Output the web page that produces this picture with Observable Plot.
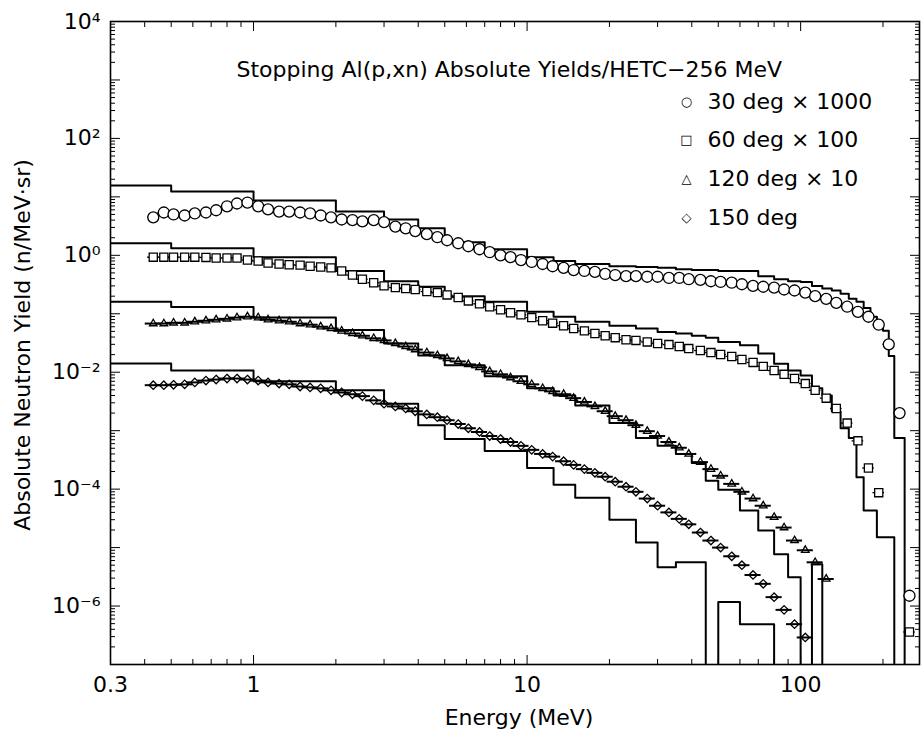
<!DOCTYPE html>
<html><head><meta charset="utf-8">
<script src="https://cdn.jsdelivr.net/npm/d3@7"></script>
<script src="https://cdn.jsdelivr.net/npm/@observablehq/plot@0.6"></script>
<style>body{margin:0;background:#fff;} svg{display:block}</style>
</head><body><div id="chart"></div>
<script>
// ---------- text ----------
const titleText = "Stopping Al(p,xn) Absolute Yields/HETC\u2212256 MeV";
const xLabel = "Energy (MeV)";
const yLabel = "Absolute Neutron Yield (n/MeV\u00b7sr)";
const seriesNames = ["30 deg \u00d7 1000", "60 deg \u00d7 100", "120 deg \u00d7 10", "150 deg"];
const seriesGlyphs = ["\u25cb", "\u25a1", "\u25b3", "\u25c7"];
const xTickLabels = [0.3, 1, 10, 100];
const yTickLabels = [1e4, 1e2, 1, 1e-2, 1e-4, 1e-6];

// ---------- HETC histograms (bin edges in MeV, one value per bin; null = no yield) ----------
const binEdges = [0.3, 0.5, 1, 2, 3, 4, 5, 7, 10, 12.5, 15, 20, 25, 30, 35, 40, 45, 50, 60, 70, 80, 90, 100,
  110, 120, 130, 140, 150, 160, 170, 180, 190, 200, 210, 220, 230, 240, 250, 260];
const hist30 = [15.6, 12.4, 8.7, 5.6, 4.1, 2.9, 1.68, 1.27, 0.93, 0.80, 0.71, 0.65, 0.63, 0.61, 0.58, 0.56, 0.56,
  0.54, 0.54, 0.44, 0.39, 0.36, 0.35, 0.30, 0.27, 0.25, 0.22, 0.18, 0.16, 0.125, 0.089, 0.069, 0.051, 0.019,
  7.5e-4, 7.5e-4, null, null];
const hist60 = [1.61, 1.32, 0.93, 0.54, 0.36, 0.29, 0.20, 0.16, 0.108, 0.089, 0.073, 0.0625, 0.056, 0.049, 0.046,
  0.042, 0.039, 0.033, 0.029, 0.021, 0.014, 0.0107, 0.0088, 0.0053, 0.0040, 0.00215, 0.0011, 7.5e-4, 1.6e-4,
  4.3e-5, 4.3e-5, 1.5e-5, 1.5e-5, 1.5e-5, null, null, null, null];
const hist120 = [0.16, 0.131, 0.086, 0.053, 0.031, 0.0193, 0.0131, 0.0085, 0.0053, 0.0040, 0.0027, 0.00135,
  7.5e-4, 5.5e-4, 4.0e-4, 2.8e-4, 1.39e-4, 9.8e-5, 4.3e-5, 1.96e-5, 7.7e-6, 3.1e-6, null, 5.2e-6,
  null, null, null, null, null, null, null, null, null, null, null, null, null, null];
const hist150 = [0.0141, 0.0107, 0.0070, 0.0049, 0.0029, 0.00124, 7.2e-4, 4.5e-4, 2.3e-4, 1.19e-4, 7.1e-5,
  3.0e-5, 1.22e-5, 4.6e-6, 5.6e-6, 5.6e-6, null, 1.17e-6, 4.9e-7, 4.9e-7,
  null, null, null, null, null, null, null, null, null, null, null, null, null, null, null, null, null, null];

// ---------- measured points ----------
const dataE = [0.43, 0.47, 0.51, 0.56, 0.61, 0.67, 0.73, 0.80, 0.87, 0.95, 1.04, 1.13, 1.24, 1.35, 1.48, 1.61,
  1.76, 1.92, 2.1, 2.3, 2.5, 2.75, 3.0, 3.3, 3.6, 3.9, 4.3, 4.7, 5.1, 5.6, 6.1, 6.7, 7.3, 8.0, 8.7, 9.5, 10.4,
  11.4, 12.4, 13.6, 14.8, 16.2, 17.7, 19.3, 21, 23, 25, 27.5, 30, 33, 36, 39, 43, 47, 51, 56, 61, 67, 73, 80,
  87, 95, 104, 113, 124, 135, 148, 162, 177, 193, 210, 230, 250];
const data30 = [4.47, 5.4, 5.0, 4.8, 5.2, 5.4, 5.9, 6.9, 7.7, 8.0, 6.9, 6.1, 5.6, 5.6, 5.4, 5.2, 4.8, 4.47, 4.1,
  4.0, 3.8, 4.0, 3.7, 3.1, 2.9, 2.6, 2.3, 2.04, 1.81, 1.61, 1.43, 1.27, 1.13, 1.0, 0.93, 0.83, 0.77, 0.71, 0.65,
  0.61, 0.56, 0.54, 0.52, 0.48, 0.46, 0.44, 0.44, 0.43, 0.43, 0.41, 0.41, 0.39, 0.38, 0.36, 0.35, 0.34, 0.32,
  0.30, 0.29, 0.28, 0.26, 0.25, 0.23, 0.20, 0.18, 0.154, 0.132, 0.108, 0.089, 0.065, 0.030, 0.0020, 1.5e-6];
const data60 = [0.93, 0.93, 0.93, 0.93, 0.93, 0.92, 0.90, 0.90, 0.90, 0.83, 0.80, 0.74, 0.71, 0.69, 0.68, 0.65,
  0.63, 0.61, 0.54, 0.46, 0.39, 0.34, 0.30, 0.28, 0.27, 0.26, 0.24, 0.23, 0.21, 0.19, 0.166, 0.148, 0.132,
  0.117, 0.104, 0.096, 0.086, 0.076, 0.069, 0.0625, 0.056, 0.051, 0.046, 0.042, 0.039, 0.036, 0.035, 0.033,
  0.031, 0.0297, 0.0275, 0.0254, 0.0235, 0.0217, 0.0201, 0.0186, 0.0165, 0.0147, 0.0126, 0.0107, 0.0092,
  0.0078, 0.0064, 0.0049, 0.0036, 0.0024, 0.00135, 6.7e-4, 2.3e-4, 8.7e-5, null, null, 3.6e-7];
const data120 = [0.068, 0.068, 0.070, 0.070, 0.073, 0.076, 0.079, 0.082, 0.086, 0.089, 0.086, 0.079, 0.076,
  0.073, 0.068, 0.065, 0.060, 0.056, 0.051, 0.046, 0.042, 0.038, 0.035, 0.031, 0.0275, 0.0244, 0.0217, 0.0193,
  0.0172, 0.0153, 0.0136, 0.0121, 0.0103, 0.0092, 0.0081, 0.0070, 0.0062, 0.0053, 0.0047, 0.0042, 0.0036,
  0.0031, 0.0026, 0.00215, 0.00177, 0.00151, 0.00124, 9.8e-4, 8.1e-4, 6.4e-4, 5.1e-4, 4.0e-4, 2.9e-4, 2.2e-4,
  1.69e-4, 1.23e-4, 9.0e-5, 6.9e-5, 5.2e-5, 3.3e-5, 2.2e-5, 1.32e-5, 9.0e-6, 5.6e-6, 2.9e-6,
  null, null, null, null, null, null, null, null];
const data150 = [0.0060, 0.0060, 0.0061, 0.0062, 0.0067, 0.0072, 0.0075, 0.0078, 0.0078, 0.0075, 0.0072, 0.0067,
  0.0064, 0.0062, 0.0057, 0.0055, 0.0053, 0.0049, 0.0045, 0.0042, 0.0039, 0.0033, 0.0029, 0.0026, 0.0024,
  0.00215, 0.0019, 0.0017, 0.00151, 0.0013, 0.0011, 9.5e-4, 8.1e-4, 7.2e-4, 6.4e-4, 5.5e-4, 4.7e-4, 4.0e-4,
  3.6e-4, 3.0e-4, 2.6e-4, 2.2e-4, 1.9e-4, 1.63e-4, 1.34e-4, 1.10e-4, 9.0e-5, 6.9e-5, 5.2e-5, 4.0e-5, 3.1e-5,
  2.5e-5, 1.81e-5, 1.32e-5, 1.0e-5, 7.1e-6, 5.0e-6, 3.4e-6, 2.4e-6, 1.42e-6, 8.6e-7, 4.9e-7, 2.9e-7,
  null, null, null, null, null, null, null, null, null, null];

// ---------- build tables ----------
const FLOOR = 1e-9; // "zero" yield: drawn below the axis and clipped
function histRows(vals, s) {
  const rows = vals.map((v, i) => ({E: binEdges[i], y: v ?? FLOOR, s}));
  const n = vals.length;
  rows.push({E: binEdges[n], y: vals[n - 1] ?? FLOOR, s});
  rows.push({E: binEdges[n], y: FLOOR, s});
  return rows;
}
function pointRows(vals, s) {
  return dataE.map((E, i) => ({E, y: vals[i], s})).filter(d => d.y != null);
}
const hists = [hist30, hist60, hist120, hist150].flatMap((h, i) => histRows(h, seriesNames[i]));
const pts = [data30, data60, data120, data150].map((d, i) => pointRows(d, seriesNames[i]));

// ---------- ticks ----------
const minorX = [], majorX = [], minorY = [], majorY = [];
for (let e = -1; e <= 2; e++) for (let m = 1; m < 10; m++) {
  const v = +(m * 10 ** e).toPrecision(3);
  if (v < 0.3 || v > 272) continue;
  (m === 1 ? majorX : minorX).push(v);
}
for (let e = -7; e <= 4; e++) for (let m = 1; m < 10; m++) {
  const v = +(m * 10 ** e).toPrecision(3);
  if (v > 1e4) continue;
  (m === 1 ? majorY : minorY).push(v);
}
const sup = "\u2070\u00b9\u00b2\u00b3\u2074\u2075\u2076\u2077\u2078\u2079";
const powFmt = d => {
  const e = Math.round(Math.log10(d));
  return "10" + String(e).replace("-", "\u207b").replace(/\d/g, c => sup[+c]);
};
const blank = () => "";
const legendDy = [80, 118, 157, 196];

const chart = Plot.plot({
  width: 924, height: 731,
  marginTop: 21, marginRight: 5, marginBottom: 67, marginLeft: 110,
  style: {fontFamily: "DejaVu Sans", fontSize: "22px", background: "white", color: "black"},
  x: {type: "log", domain: [0.3, 272]},
  y: {type: "log", domain: [1e-7, 1e4]},
  marks: [
    Plot.line(hists, {x: "E", y: "y", z: "s", curve: "step-after", stroke: "black", strokeWidth: 2, clip: true}),
    Plot.ruleY(pts[0].concat(pts[1]), {y: "y", x1: d => d.E / 1.05, x2: d => d.E * 1.05, stroke: "black", strokeWidth: 1.3, clip: true}),
    Plot.ruleY(pts[2].concat(pts[3]), {y: "y", x1: d => d.E / 1.07, x2: d => d.E * 1.07, stroke: "black", strokeWidth: 2, clip: true}),
    Plot.dot(pts[0], {x: "E", y: "y", symbol: "circle", r: 5.5, stroke: "black", fill: "white", strokeWidth: 1.3, clip: true}),
    Plot.dot(pts[1], {x: "E", y: "y", symbol: "square", r: 4.6, stroke: "black", fill: "white", strokeWidth: 1.3, clip: true}),
    Plot.dot(pts[2], {x: "E", y: "y", symbol: "triangle2", r: 3.6, stroke: "black", fill: "none", strokeWidth: 1.3, clip: true}),
    Plot.dot(pts[3], {x: "E", y: "y", symbol: "diamond2", r: 3.8, stroke: "black", fill: "none", strokeWidth: 1.3, clip: true}),
    // axes: inward ticks on all four sides
    Plot.axisX({anchor: "bottom", ticks: minorX, tickSize: -5, tickFormat: blank, label: null}),
    Plot.axisX({anchor: "bottom", ticks: majorX, tickSize: -9, tickFormat: blank, label: null}),
    Plot.axisX({anchor: "bottom", ticks: xTickLabels, tickSize: 0, tickPadding: 12, tickFormat: d => String(d), fontSize: 22, label: null}),
    Plot.axisX({anchor: "top", ticks: minorX, tickSize: -5, tickFormat: blank, label: null}),
    Plot.axisX({anchor: "top", ticks: majorX, tickSize: -9, tickFormat: blank, label: null}),
    Plot.axisY({anchor: "left", ticks: minorY, tickSize: -5, tickFormat: blank, label: null}),
    Plot.axisY({anchor: "left", ticks: majorY, tickSize: -10, tickFormat: blank, label: null}),
    Plot.axisY({anchor: "left", ticks: yTickLabels, tickSize: 0, tickPadding: 10, tickFormat: powFmt, fontSize: 22, label: null}),
    Plot.axisY({anchor: "right", ticks: minorY, tickSize: -5, tickFormat: blank, label: null}),
    Plot.axisY({anchor: "right", ticks: majorY, tickSize: -10, tickFormat: blank, label: null}),
    Plot.frame({stroke: "black", strokeWidth: 1.6}),
    // title, axis labels
    Plot.text([titleText], {frameAnchor: "top-left", dx: 126, dy: 48, textAnchor: "start", lineAnchor: "middle", fontSize: 22}),
    Plot.text([xLabel], {frameAnchor: "bottom", dx: 4, dy: 53, textAnchor: "middle", lineAnchor: "middle", fontSize: 22}),
    Plot.text([yLabel], {frameAnchor: "left", dx: -88, dy: 2, rotate: -90, textAnchor: "middle", lineAnchor: "middle", fontSize: 22}),
    // legend
    ...seriesNames.flatMap((name, i) => [
      Plot.text([seriesGlyphs[i]], {frameAnchor: "top-left", dx: 576, dy: legendDy[i], textAnchor: "middle", lineAnchor: "middle", fontSize: 13}),
      Plot.text([name], {frameAnchor: "top-left", dx: 597, dy: legendDy[i], textAnchor: "start", lineAnchor: "middle", fontSize: 22})
    ])
  ]
});
document.getElementById("chart").appendChild(chart);
</script>
</body></html>
